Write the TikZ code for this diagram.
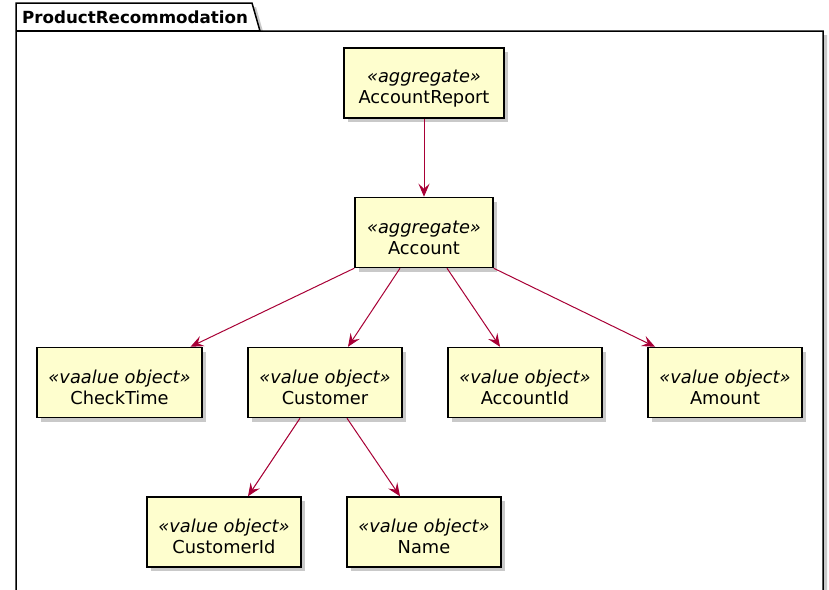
\documentclass[tikz,border=0pt]{standalone}
\usepackage{fontspec}
\setmainfont{DejaVu Sans}
\usetikzlibrary{arrows.meta,shadows,calc}
\definecolor{boxfill}{HTML}{FEFECE}
\definecolor{arrowc}{HTML}{A80036}
\newcommand{\toppad}{\rule{0pt}{23pt}}
\begin{document}
\begin{tikzpicture}[x=1pt,y=-1pt,
  cls/.style={draw=black,line width=1.5pt,fill=boxfill,minimum height=70pt,align=center,
    inner sep=0pt,font=\fontsize{17.8}{21}\selectfont,
    drop shadow={shadow xshift=4pt,shadow yshift=-4pt,opacity=0.35,fill=black!60}},
  rel/.style={draw=arrowc,line width=1pt,-{Stealth[length=13pt,width=11pt,inset=5pt]}},
  pkg/.style={draw=black,line width=1.5pt,fill=white,
    drop shadow={shadow xshift=4pt,shadow yshift=-4pt,opacity=0.35,fill=black!60}}
]
\useasboundingbox (0,0) rectangle (829,589);
\fill[white] (0,0) rectangle (829,589);
% package
\draw[pkg] (16,31) -- (16,3) -- (252,3) -- (260,31) -- (823,31) -- (823,600) -- (16,600) -- cycle;
\draw[black,line width=1.5pt] (16,31) -- (260,31);
\node[anchor=base west,font=\fontsize{16.7}{19}\selectfont\bfseries,inner sep=0pt] (pkgname) at (22,23) {ProductRecommodation};
% nodes
\node[cls,minimum width=160pt] (report) at (424,83) {\toppad\textit{«aggregate»}\\AccountReport};
\node[cls,minimum width=138pt] (account) at (424,232.5) {\toppad\textit{«aggregate»}\\Account};
\node[cls,minimum width=165pt] (checktime) at (119.5,382.5) {\toppad\textit{«vaalue object»}\\CheckTime};
\node[cls,minimum width=154pt] (customer) at (325,382.5) {\toppad\textit{«value object»}\\Customer};
\node[cls,minimum width=154pt] (accountid) at (525,382.5) {\toppad\textit{«value object»}\\AccountId};
\node[cls,minimum width=154pt] (amount) at (725,382.5) {\toppad\textit{«value object»}\\Amount};
\node[cls,minimum width=154pt] (customerid) at (224,532) {\toppad\textit{«value object»}\\CustomerId};
\node[cls,minimum width=154pt] (name) at (424,532) {\toppad\textit{«value object»}\\Name};
% relations
\draw[rel] (report.south) -- (account.north);
\draw[rel] (account.south west) -- ($(checktime.north)+(71,0)$);
\draw[rel] ($(account.south)+(-24,0)$) -- ($(customer.north)+(23,0)$);
\draw[rel] ($(account.south)+(23,0)$) -- ($(accountid.north)+(-25,0)$);
\draw[rel] (account.south east) -- ($(amount.north)+(-70,0)$);
\draw[rel] ($(customer.south)+(-25,0)$) -- ($(customerid.north)+(24,0)$);
\draw[rel] ($(customer.south)+(22,0)$) -- ($(name.north)+(-24,0)$);
\end{tikzpicture}
\end{document}
